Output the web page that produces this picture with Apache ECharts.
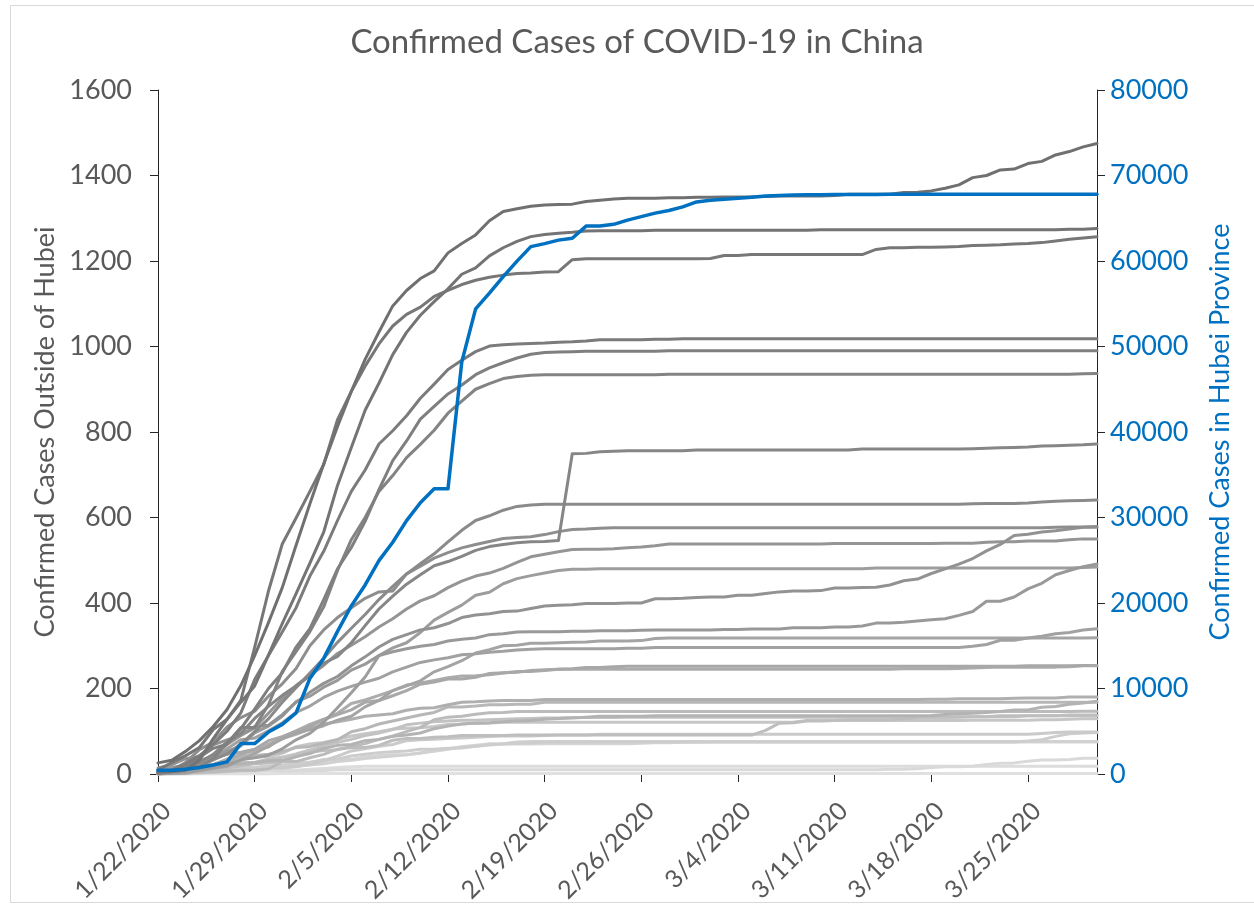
<!DOCTYPE html>
<html>
<head>
<meta charset="utf-8">
<title>Confirmed Cases of COVID-19 in China</title>
<script src="https://cdn.jsdelivr.net/npm/echarts@6/dist/echarts.min.js"></script>
<style>
  html, body { margin: 0; padding: 0; background: #ffffff; }
  #chart { width: 1254px; height: 909px; }
</style>
</head>
<body>
<div id="chart"></div>
<script>
// Daily dates, 1/22/2020 through 3/30/2020
const dates = [
  '1/22/2020','1/23/2020','1/24/2020','1/25/2020','1/26/2020','1/27/2020','1/28/2020','1/29/2020','1/30/2020','1/31/2020',
  '2/1/2020','2/2/2020','2/3/2020','2/4/2020','2/5/2020','2/6/2020','2/7/2020','2/8/2020','2/9/2020','2/10/2020',
  '2/11/2020','2/12/2020','2/13/2020','2/14/2020','2/15/2020','2/16/2020','2/17/2020','2/18/2020','2/19/2020','2/20/2020',
  '2/21/2020','2/22/2020','2/23/2020','2/24/2020','2/25/2020','2/26/2020','2/27/2020','2/28/2020','2/29/2020',
  '3/1/2020','3/2/2020','3/3/2020','3/4/2020','3/5/2020','3/6/2020','3/7/2020','3/8/2020','3/9/2020','3/10/2020',
  '3/11/2020','3/12/2020','3/13/2020','3/14/2020','3/15/2020','3/16/2020','3/17/2020','3/18/2020','3/19/2020','3/20/2020',
  '3/21/2020','3/22/2020','3/23/2020','3/24/2020','3/25/2020','3/26/2020','3/27/2020','3/28/2020','3/29/2020','3/30/2020'
];

// Left axis ticks (cases outside Hubei) and right axis ticks (Hubei)
const leftTicks = [0, 200, 400, 600, 800, 1000, 1200, 1400, 1600];
const rightTicks = [0, 10000, 20000, 30000, 40000, 50000, 60000, 70000, 80000];

// Cumulative confirmed cases, Hubei Province (right axis)
const hubei = [444,444,549,761,1058,1423,3554,3554,4903,5806,
  7153,11177,13522,16678,19665,22112,24953,27100,29631,31728,33366,33366,48206,54406,56249,58182,59989,61682,62031,62442,62662,64084,64084,64287,64786,65187,65596,65914,66337,
  66907,67103,67217,67332,67466,67592,67666,67707,67743,67760,67773,67781,67786,67790,67794,67798,67799,67800,67800,67800,67800,67800,67800,67801,67801,67801,67801,67801,67801,67801];

// Cumulative confirmed cases, other provinces (left axis)
const guangdong = [26,32,53,78,111,151,207,277,354,436,
  535,632,725,813,895,970,1034,1095,1131,1159,1177,1219,1241,1261,1294,1316,1322,1328,1331,1332,1333,1339,1342,1345,1347,1347,1347,1348,1348,
  1349,1349,1350,1350,1350,1351,1352,1352,1352,1352,1353,1356,1356,1356,1356,1360,1361,1364,1370,1378,1395,1400,1413,1415,1428,1433,1448,1456,1467,1475];
const henan = [5,5,9,32,83,128,168,206,278,352,
  422,493,566,675,764,851,914,981,1033,1073,1105,1135,1169,1184,1212,1231,1246,1257,1262,1265,1267,1270,1271,1271,1271,1271,1272,1272,1272,
  1272,1272,1272,1272,1272,1272,1272,1272,1272,1273,1273,1273,1273,1273,1273,1273,1273,1273,1273,1273,1273,1273,1273,1273,1273,1273,1273,1274,1274,1276];
const zhejiang = [10,27,43,62,104,128,173,296,428,538,
  599,661,724,829,895,954,1006,1048,1075,1092,1117,1131,1145,1155,1162,1167,1171,1172,1174,1175,1203,1205,1205,1205,1205,1205,1205,1205,1205,
  1205,1206,1213,1213,1215,1215,1215,1215,1215,1215,1215,1215,1215,1227,1231,1231,1232,1232,1233,1234,1236,1237,1238,1240,1241,1243,1247,1251,1254,1257];
const hunan = [4,9,24,43,69,100,143,221,277,332,
  389,463,521,593,661,711,772,803,838,879,912,946,968,988,1001,1004,1006,1007,1008,1010,1011,1013,1016,1016,1016,1016,1017,1017,1018,
  1018,1018,1018,1018,1018,1018,1018,1018,1018,1018,1018,1018,1018,1018,1018,1018,1018,1018,1018,1018,1018,1018,1018,1018,1018,1018,1018,1018,1018,1018];
const anhui = [1,9,15,39,60,70,106,152,200,237,
  297,340,408,480,530,591,665,733,779,830,860,889,910,934,950,962,973,982,986,987,988,989,989,989,989,989,989,990,990,
  990,990,990,990,990,990,990,990,990,990,990,990,990,990,990,990,990,990,990,990,990,990,990,990,990,990,990,990,990,990];
const jiangxi = [2,7,18,18,36,72,109,109,162,240,
  286,333,391,476,548,600,661,698,740,771,804,844,872,900,913,925,930,933,934,934,934,934,934,934,934,934,934,935,935,
  935,935,935,935,935,935,935,935,935,935,935,935,935,935,935,935,935,935,935,935,935,935,935,935,935,935,935,935,936,937];
const shandong = [2,6,15,27,46,75,95,130,158,184,
  206,230,259,275,307,347,386,416,444,466,487,497,509,523,532,537,541,543,544,546,749,750,754,755,756,756,756,756,756,
  758,758,758,758,758,758,758,758,758,758,758,758,760,760,760,760,760,760,760,760,761,762,763,764,765,767,768,769,770,772];
const jiangsu = [1,5,9,18,33,47,70,99,129,168,
  202,236,271,308,341,373,408,439,468,492,515,543,570,593,604,617,626,629,631,631,631,631,631,631,631,631,631,631,631,
  631,631,631,631,631,631,631,631,631,631,631,631,631,631,631,631,631,631,631,631,632,633,633,633,634,636,638,639,640,641];
const chongqing = [6,9,27,57,75,110,132,147,182,211,
  247,300,337,366,389,411,426,428,468,486,505,518,529,537,544,551,553,555,560,567,572,573,575,576,576,576,576,576,576,
  576,576,576,576,576,576,576,576,576,576,576,576,576,576,576,576,576,576,576,576,576,576,576,576,576,576,577,578,578,579];
const beijing = [14,22,36,41,68,80,91,111,114,139,
  168,191,212,228,253,274,297,315,326,337,342,352,366,372,375,380,381,387,393,395,396,399,399,399,400,400,410,410,411,
  413,414,414,418,418,422,426,428,428,429,435,435,436,437,442,452,456,469,480,491,504,522,537,558,561,566,569,573,577,577];
const sichuan = [5,8,15,28,44,69,90,108,142,177,
  207,231,254,282,301,321,344,363,386,405,417,436,451,463,470,481,495,508,514,520,525,526,526,527,529,531,534,538,538,
  538,538,538,538,538,538,538,538,538,538,539,539,539,539,539,539,539,539,540,540,540,542,543,543,545,545,545,548,550,550];
const shanghai = [9,16,20,33,40,53,66,96,112,135,
  169,182,203,219,243,257,277,286,293,299,303,311,315,318,326,328,332,333,333,333,334,334,335,335,335,336,337,337,337,
  337,337,338,338,339,339,339,342,342,342,344,344,346,353,353,355,358,361,363,371,380,404,404,414,433,446,466,476,485,491];
const heilongjiang = [0,2,4,9,15,21,33,38,44,59,
  80,95,121,155,190,227,277,295,307,331,360,378,395,418,425,445,457,464,470,476,479,479,480,480,480,480,480,480,480,
  480,480,480,480,480,480,480,480,480,480,480,480,480,482,482,482,482,482,482,482,482,482,482,482,482,482,482,482,483,484];
const fujian = [1,5,10,18,35,59,80,84,101,120,
  144,159,179,194,205,215,224,239,250,261,267,272,279,281,285,287,290,292,293,293,293,293,293,293,294,294,296,296,296,
  296,296,296,296,296,296,296,296,296,296,296,296,296,296,296,296,296,296,296,296,299,303,313,313,318,322,328,331,337,340];
const hebei = [1,1,2,8,13,18,33,48,65,82,
  96,104,113,126,135,157,172,195,206,218,239,251,265,283,291,300,301,306,306,307,308,309,311,311,311,312,317,318,318,
  318,318,318,318,318,318,318,318,318,318,318,318,318,318,318,318,318,318,318,318,318,318,318,318,318,318,318,318,318,319];
const guangxi = [2,5,23,23,36,46,51,58,78,87,
  100,111,127,139,150,168,172,183,195,210,215,222,222,226,235,237,238,242,244,245,246,249,249,251,252,252,252,252,252,
  252,252,252,252,252,252,252,252,252,252,252,252,252,252,252,252,252,252,252,252,252,252,252,252,253,253,253,253,254,254];
const shaanxi = [0,3,5,15,22,35,46,56,63,87,
  101,116,128,142,165,173,184,195,208,213,219,225,229,230,232,236,240,240,242,245,245,245,245,245,245,245,245,245,245,
  245,245,245,245,245,245,245,245,245,245,245,245,245,245,245,246,246,246,246,247,248,249,250,250,250,250,250,251,253,253];
const yunnan = [1,2,5,11,16,26,44,55,70,83,
  93,105,117,122,128,135,138,141,149,154,155,162,168,169,171,172,172,172,174,174,174,174,174,174,174,174,174,174,174,
  174,174,174,174,174,174,174,174,174,174,174,174,174,174,174,174,174,175,175,176,176,176,176,177,178,178,178,180,180,180];
const tianjin = [4,4,8,10,14,23,24,27,31,32,
  41,48,60,67,69,78,81,88,91,96,106,112,117,119,120,122,124,125,128,130,131,133,135,135,135,135,136,136,136,
  136,136,136,136,136,136,136,136,136,136,136,136,136,136,136,136,136,137,139,141,142,144,146,150,150,156,158,163,166,170];
const hainan = [4,5,8,19,22,33,40,43,46,52,
  62,64,72,80,99,106,117,124,131,138,144,157,157,159,162,162,163,163,168,168,168,168,168,168,168,168,168,168,168,
  168,168,168,168,168,168,168,168,168,168,168,168,168,168,168,168,168,168,168,168,168,168,168,168,168,168,168,168,168,168];
const guizhou = [1,3,3,4,5,7,9,9,12,29,
  29,38,46,58,64,71,81,89,99,109,127,133,135,140,143,144,146,146,146,146,146,146,146,146,146,146,146,146,146,
  146,146,146,146,146,146,146,146,146,146,146,146,146,146,146,146,146,146,146,146,146,146,146,146,146,146,146,146,147,147];
const gansu = [0,2,2,4,7,14,19,24,26,29,
  40,51,55,57,62,62,67,79,83,83,86,87,90,90,90,90,91,91,91,91,91,91,91,91,91,91,91,91,91,
  91,91,91,91,91,102,119,120,124,124,125,127,127,127,127,129,133,133,133,134,134,134,136,136,136,136,136,138,138,138];
const shanxi = [1,1,1,6,9,13,27,27,35,39,
  47,56,66,74,81,90,96,104,115,119,122,124,126,126,127,128,129,130,131,131,132,132,132,132,133,133,133,133,133,
  133,133,133,133,133,133,133,133,133,133,133,133,133,133,133,133,133,133,133,133,134,134,134,134,136,136,136,136,136,136];
const liaoning = [2,3,4,17,21,27,34,39,41,48,
  64,70,74,81,89,94,99,105,107,108,111,116,117,119,119,121,121,121,121,121,121,121,121,121,121,121,121,121,121,
  121,121,121,121,121,121,121,121,125,125,125,125,125,125,125,125,125,125,125,125,126,126,126,126,126,127,127,128,129,129];
const jilin = [0,1,3,4,4,6,8,9,14,14,
  17,23,31,42,54,59,65,69,78,80,81,83,84,86,88,89,89,89,90,91,91,91,93,93,93,93,93,93,93,
  93,93,93,93,93,93,93,93,93,93,93,93,93,93,93,93,93,93,93,93,93,93,93,93,93,95,97,98,98,98];
const innerMongolia = [0,0,1,7,7,11,15,16,19,20,
  23,27,34,35,42,46,50,52,54,58,58,60,61,65,68,70,72,73,75,75,75,75,75,75,75,75,75,75,75,
  75,75,75,75,75,75,75,75,75,75,75,75,75,75,75,75,75,75,75,75,75,75,75,75,77,80,88,94,96,97];
const xinjiang = [0,2,2,3,4,5,10,13,14,17,
  18,21,24,29,32,36,39,42,45,49,55,59,63,65,70,71,75,76,76,76,76,76,76,76,76,76,76,76,76,
  76,76,76,76,76,76,76,76,76,76,76,76,76,76,76,76,76,76,76,76,76,76,76,76,76,76,76,76,76,76];
const ningxia = [1,1,2,3,4,7,11,12,17,21,
  26,28,31,34,34,40,43,45,45,49,53,58,64,67,70,70,70,70,71,71,71,71,71,71,71,72,73,73,74,
  74,75,75,75,75,75,75,75,75,75,75,75,75,75,75,75,75,75,75,75,75,75,75,75,75,75,75,75,75,75];
const macau = [1,2,2,2,5,6,7,7,7,7,
  7,8,8,10,10,10,10,10,10,10,10,10,10,10,10,10,10,10,10,10,10,10,10,10,10,10,10,10,10,
  10,10,10,10,10,10,10,10,10,10,10,10,10,10,11,11,12,15,17,17,18,22,25,26,30,33,33,34,37,37];
const qinghai = [0,0,0,1,6,6,6,6,8,9,
  9,11,13,15,17,18,18,18,18,18,18,18,18,18,18,18,18,18,18,18,18,18,18,18,18,18,18,18,18,
  18,18,18,18,18,18,18,18,18,18,18,18,18,18,18,18,18,18,18,18,18,18,18,18,18,18,18,18,18,18];
const tibet = [0,0,0,0,0,0,0,0,0,1,
  1,1,1,1,1,1,1,1,1,1,1,1,1,1,1,1,1,1,1,1,1,1,1,1,1,1,1,1,1,
  1,1,1,1,1,1,1,1,1,1,1,1,1,1,1,1,1,1,1,1,1,1,1,1,1,1,1,1,1,1];

// Provinces outside Hubei, largest outbreak first
const provinces = [
  ['Guangdong', guangdong], ['Henan', henan], ['Zhejiang', zhejiang], ['Hunan', hunan],
  ['Anhui', anhui], ['Jiangxi', jiangxi], ['Shandong', shandong], ['Jiangsu', jiangsu],
  ['Chongqing', chongqing], ['Beijing', beijing], ['Sichuan', sichuan], ['Shanghai', shanghai],
  ['Heilongjiang', heilongjiang], ['Fujian', fujian], ['Hebei', hebei], ['Guangxi', guangxi],
  ['Shaanxi', shaanxi], ['Yunnan', yunnan], ['Tianjin', tianjin], ['Hainan', hainan],
  ['Guizhou', guizhou], ['Gansu', gansu], ['Shanxi', shanxi], ['Liaoning', liaoning],
  ['Jilin', jilin], ['Inner Mongolia', innerMongolia], ['Xinjiang', xinjiang], ['Ningxia', ningxia],
  ['Macau', macau], ['Qinghai', qinghai], ['Tibet', tibet]
];

const FONT = 'Lato';
const GREY_TEXT = '#595959';
const BLUE = '#0070C0';
const AXIS_LINE = '#262626';

// Grey shade by rank: the larger the outbreak, the darker the line
function greyFor(rank, count) {
  const dark = 0x70, light = 0xe0;
  const g = Math.round(dark + (light - dark) * rank / (count - 1));
  const h = g.toString(16).padStart(2, '0');
  return '#' + h + h + h;
}

// Plain integer tick labels, no thousands separator
const plain = v => String(v);

const series = [];
// Lightest lines first so darker ones sit on top
for (let i = provinces.length - 1; i >= 0; i--) {
  const [name, values] = provinces[i];
  series.push({
    name: name,
    type: 'line',
    yAxisIndex: 0,
    data: values,
    showSymbol: false,
    symbol: 'none',
    silent: true,
    lineStyle: { color: greyFor(i, provinces.length), width: 3, cap: 'round', join: 'round' }
  });
}
series.push({
  name: 'Hubei',
  type: 'line',
  yAxisIndex: 1,
  data: hubei,
  showSymbol: false,
  symbol: 'none',
  silent: true,
  z: 5,
  lineStyle: { color: BLUE, width: 3.5, cap: 'round', join: 'round' }
});

const chart = echarts.init(document.getElementById('chart'), null, { renderer: 'canvas' });
chart.setOption({
  animation: false,
  backgroundColor: '#ffffff',
  textStyle: { fontFamily: FONT },
  title: {
    text: 'Confirmed Cases of COVID-19 in China',
    left: 632,
    top: 21,
    textAlign: 'center',
    textStyle: { fontFamily: FONT, fontSize: 33, fontWeight: 'normal', color: GREY_TEXT }
  },
  graphic: [{
    type: 'rect',
    silent: true,
    shape: { x: 10.5, y: 5.5, width: 1300, height: 897 },
    style: { fill: 'none', stroke: '#d9d9d9', lineWidth: 1 }
  }],
  grid: { left: 158, right: 157, top: 90, bottom: 135, containLabel: false },
  xAxis: {
    type: 'category',
    data: dates,
    boundaryGap: false,
    axisLine: { show: true, lineStyle: { color: AXIS_LINE, width: 1 } },
    axisTick: { show: true, interval: 6, length: 8, lineStyle: { color: AXIS_LINE } },
    axisLabel: {
      interval: 6, rotate: 45, margin: 24,
      align: 'right', verticalAlign: 'top',
      fontFamily: FONT, fontSize: 25, color: GREY_TEXT
    },
    splitLine: { show: false }
  },
  yAxis: [{
    type: 'value',
    position: 'left',
    min: leftTicks[0],
    max: leftTicks[leftTicks.length - 1],
    interval: leftTicks[1] - leftTicks[0],
    name: 'Confirmed Cases Outside of Hubei',
    nameLocation: 'middle',
    nameGap: 70,
    nameRotate: 90,
    nameTextStyle: { fontFamily: FONT, fontSize: 27, color: GREY_TEXT },
    axisLine: { show: true, lineStyle: { color: AXIS_LINE, width: 1 } },
    axisTick: { show: true, length: 8, lineStyle: { color: AXIS_LINE } },
    axisLabel: { margin: 26, formatter: plain, fontFamily: FONT, fontSize: 27, color: GREY_TEXT },
    splitLine: { show: false }
  }, {
    type: 'value',
    position: 'right',
    min: rightTicks[0],
    max: rightTicks[rightTicks.length - 1],
    interval: rightTicks[1] - rightTicks[0],
    name: 'Confirmed Cases in Hubei Province',
    nameLocation: 'middle',
    nameGap: 110,
    nameRotate: 90,
    nameTextStyle: { fontFamily: FONT, fontSize: 27, color: BLUE },
    axisLine: { show: true, lineStyle: { color: AXIS_LINE, width: 1 } },
    axisTick: { show: true, length: 8, lineStyle: { color: AXIS_LINE } },
    axisLabel: { margin: 13, formatter: plain, fontFamily: FONT, fontSize: 27, color: BLUE },
    splitLine: { show: false }
  }],
  series: series
});
</script>
</body>
</html>
